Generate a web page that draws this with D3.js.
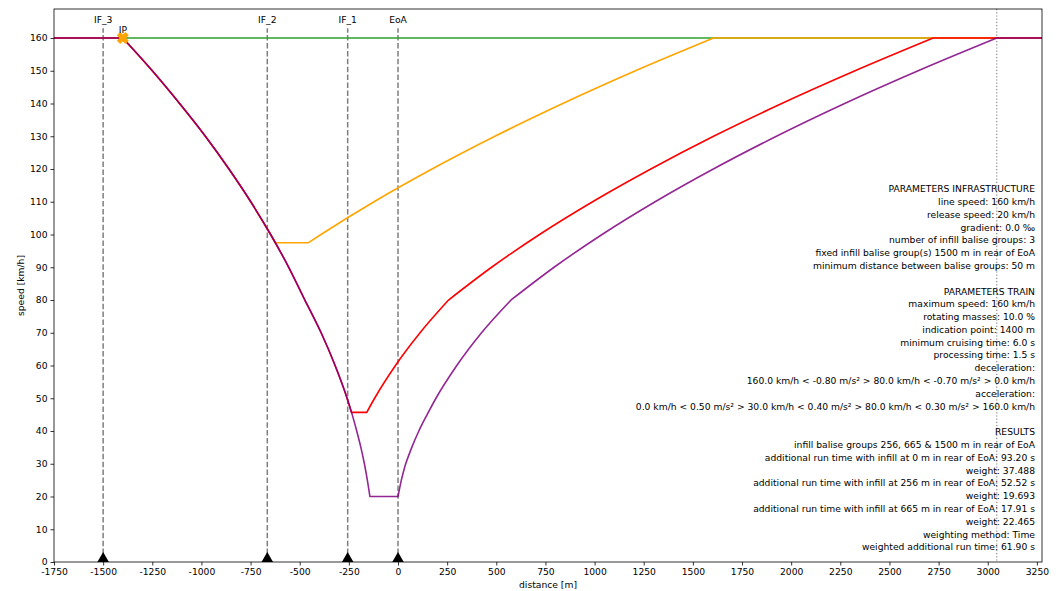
<!DOCTYPE html>
<html>
<head>
<meta charset="utf-8">
<script src="https://cdn.jsdelivr.net/npm/d3@7"></script>
<style>
  html, body { margin: 0; padding: 0; background: #fff; }
  svg { display: block; font-family: "DejaVu Sans", sans-serif; }
</style>
</head>
<body>
<svg id="chart" width="1059" height="591"></svg>
<script>
// ---------- data ----------
const xTickValues = [-1750,-1500,-1250,-1000,-750,-500,-250,0,250,500,750,1000,1250,1500,1750,2000,2250,2500,2750,3000,3250];
const yTickValues = [0,10,20,30,40,50,60,70,80,90,100,110,120,130,140,150,160];

// each curve is a list of smooth pieces [distance m, speed km/h]
const lineSpeed = [
  [[-1750,160],[3276,160]]
];
const orangeCurve = [
  [[-1750,160],[-1400,160]],
  [[-1400,160],[-1250,150],[-1111,140],[-980,130],[-860,120],[-749,110],[-648,100],[-624,97.5]],
  [[-624,97.5],[-456,97.5]],
  [[-456,97.5],[-392,100],[-122,110],[173,120],[493,130],[838,140],[1208,150],[1605,160]],
  [[1605,160],[3276,160]]
];
const redCurve = [
  [[-1750,160],[-1400,160]],
  [[-1400,160],[-1250,150],[-1111,140],[-980,130],[-860,120],[-749,110],[-648,100],[-556,90],[-474,80]],
  [[-474,80],[-391,70],[-320,60],[-259,50],[-237,45.7]],
  [[-237,45.7],[-159,45.7]],
  [[-159,45.7],[-119,50],[-13,60],[112,70],[257,80]],
  [[257,80],[476,90],[720,100],[990,110],[1286,120],[1605,130],[1952,140],[2325,150],[2722,160]],
  [[2722,160],[3276,160]]
];
const purpleCurve = [
  [[-1750,160],[-1400,160]],
  [[-1400,160],[-1250,150],[-1111,140],[-980,130],[-860,120],[-749,110],[-648,100],[-556,90],[-474,80]],
  [[-474,80],[-391,70],[-320,60],[-259,50],[-233,45],[-210,40],[-189,35],[-171,30],[-156,25],[-143,20]],
  [[-143,20],[0,20]],
  [[0,20],[17,25],[39,30]],
  [[39,30],[70,35],[106,40],[148,45],[193,50],[299,60],[425,70],[575,80]],
  [[575,80],[794,90],[1038,100],[1308,110],[1604,120],[1925,130],[2272,140],[2646,150],[3046,160]],
  [[3046,160],[3276,160]]
];

const baliseNames = ["IF_3","IF_2","IF_1","EoA"];
const balisePositions = [-1500,-665,-256,0];
const indicationPoint = {name: "IP", x: -1400, v: 160};
const releaseEnd = 3046;

const infoLines = [
  "PARAMETERS INFRASTRUCTURE",
  "line speed: 160 km/h",
  "release speed: 20 km/h",
  "gradient: 0.0 \u2030",
  "number of infill balise groups: 3",
  "fixed infill balise group(s) 1500 m in rear of EoA",
  "minimum distance between balise groups: 50 m",
  "",
  "PARAMETERS TRAIN",
  "maximum speed: 160 km/h",
  "rotating masses: 10.0 %",
  "indication point: 1400 m",
  "minimum cruising time: 6.0 s",
  "processing time: 1.5 s",
  "deceleration:",
  "160.0 km/h < -0.80 m/s\u00b2 > 80.0 km/h < -0.70 m/s\u00b2 > 0.0 km/h",
  "acceleration:",
  "0.0 km/h < 0.50 m/s\u00b2 > 30.0 km/h < 0.40 m/s\u00b2 > 80.0 km/h < 0.30 m/s\u00b2 > 160.0 km/h",
  "",
  "RESULTS",
  "infill balise groups 256, 665 & 1500 m in rear of EoA",
  "additional run time with infill at 0 m in rear of EoA: 93.20 s",
  "weight: 37.488",
  "additional run time with infill at 256 m in rear of EoA: 52.52 s",
  "weight: 19.693",
  "additional run time with infill at 665 m in rear of EoA: 17.91 s",
  "weight: 22.465",
  "weighting method: Time",
  "weighted additional run time: 61.90 s"
];

// ---------- layout ----------
const W = 1059, H = 591;
const m = {left: 54, right: 1042, top: 9, bottom: 562};
const FS = 9.2;

const x = d3.scaleLinear().domain([-1750, 3276]).range([m.left, m.right]);
const y = d3.scaleLinear().domain([0, 168.86]).range([m.bottom, m.top]);

const svg = d3.select("#chart");
svg.append("rect").attr("width", W).attr("height", H).attr("fill", "#fff");

svg.append("defs").append("clipPath").attr("id", "clip")
  .append("rect").attr("x", m.left).attr("y", m.top)
  .attr("width", m.right - m.left).attr("height", m.bottom - m.top);

const plot = svg.append("g").attr("clip-path", "url(#clip)");

const pieceLine = d3.line().x(d => x(d[0])).y(d => y(d[1])).curve(d3.curveMonotoneX);
const curvePath = pieces => pieces.map(p => pieceLine(p)).join("");

// vertical balise lines
plot.selectAll("line.bal").data(balisePositions).enter().append("line")
  .attr("x1", d => x(d)).attr("x2", d => x(d))
  .attr("y1", y(0)).attr("y2", y(163))
  .attr("stroke", "#7f7f7f").attr("stroke-width", 1.5)
  .attr("stroke-dasharray", "5.5,2.4");

// release end dotted line
plot.append("line")
  .attr("x1", x(releaseEnd)).attr("x2", x(releaseEnd))
  .attr("y1", m.top).attr("y2", m.bottom)
  .attr("stroke", "#7f7f7f").attr("stroke-width", 1.1)
  .attr("stroke-dasharray", "1.2,2");

// curves
const series = [
  {d: lineSpeed, c: "#2ca02c", o: 1},
  {d: orangeCurve, c: "#ffa500", o: 1},
  {d: redCurve, c: "#ff0000", o: 1},
  {d: purpleCurve, c: "#800080", o: 0.85}
];
series.forEach(s => {
  plot.append("path").attr("d", curvePath(s.d))
    .attr("fill", "none").attr("stroke", s.c).attr("stroke-opacity", s.o)
    .attr("stroke-width", 1.6).attr("stroke-linejoin", "round").attr("stroke-linecap", "round");
});

// IP marker
plot.append("path")
  .attr("d", d3.symbol().type(d3.symbolCross).size(70)())
  .attr("transform", `translate(${x(indicationPoint.x)},${y(indicationPoint.v)}) rotate(45)`)
  .attr("fill", "#ffa500").attr("stroke", "#ffa500").attr("stroke-width", 1);

// balise triangles
plot.selectAll("path.tri").data(balisePositions).enter().append("path")
  .attr("d", d3.symbol().type(d3.symbolTriangle).size(130)())
  .attr("transform", d => `translate(${x(d)},${y(0)})`)
  .attr("fill", "#000");

// labels
svg.selectAll("text.bal").data(baliseNames).enter().append("text")
  .attr("x", (d, i) => x(balisePositions[i])).attr("y", 20).attr("dy", "0.35em")
  .attr("text-anchor", "middle").attr("font-size", FS).text(d => d);
svg.append("text").attr("x", x(indicationPoint.x)).attr("y", 29.5).attr("dy", "0.35em")
  .attr("text-anchor", "middle").attr("font-size", FS).text(indicationPoint.name);

// info text
svg.append("g").selectAll("text").data(infoLines).enter().append("text")
  .attr("x", 1035).attr("y", (d, i) => 189 + i * 12.79).attr("dy", "0.35em")
  .attr("text-anchor", "end").attr("font-size", FS).attr("fill", "#000").text(d => d);

// axes
const xAxis = d3.axisBottom(x).tickValues(xTickValues).tickFormat(d => String(d)).tickSize(3.5).tickPadding(3);
const yAxis = d3.axisLeft(y).tickValues(yTickValues).tickFormat(d => String(d)).tickSize(3.5).tickPadding(3);

const gx = svg.append("g").attr("transform", `translate(0,${m.bottom})`).call(xAxis);
const gy = svg.append("g").attr("transform", `translate(${m.left},0)`).call(yAxis);
[gx, gy].forEach(g => {
  g.select(".domain").remove();
  g.selectAll("text").attr("font-size", FS).attr("font-family", "DejaVu Sans").attr("fill", "#000");
  g.selectAll("line").attr("stroke", "#000").attr("stroke-width", 0.8);
});

// frame
svg.append("rect").attr("x", m.left).attr("y", m.top)
  .attr("width", m.right - m.left).attr("height", m.bottom - m.top)
  .attr("fill", "none").attr("stroke", "#000").attr("stroke-width", 0.8);

// axis titles
svg.append("text").attr("x", (m.left + m.right) / 2).attr("y", 585).attr("dy", "0.35em")
  .attr("text-anchor", "middle").attr("font-size", FS).text("distance [m]");
svg.append("text").attr("transform", `translate(21,${(m.top + m.bottom) / 2}) rotate(-90)`)
  .attr("dy", "0.35em").attr("text-anchor", "middle").attr("font-size", FS).text("speed [km/h]");
</script>
</body>
</html>
